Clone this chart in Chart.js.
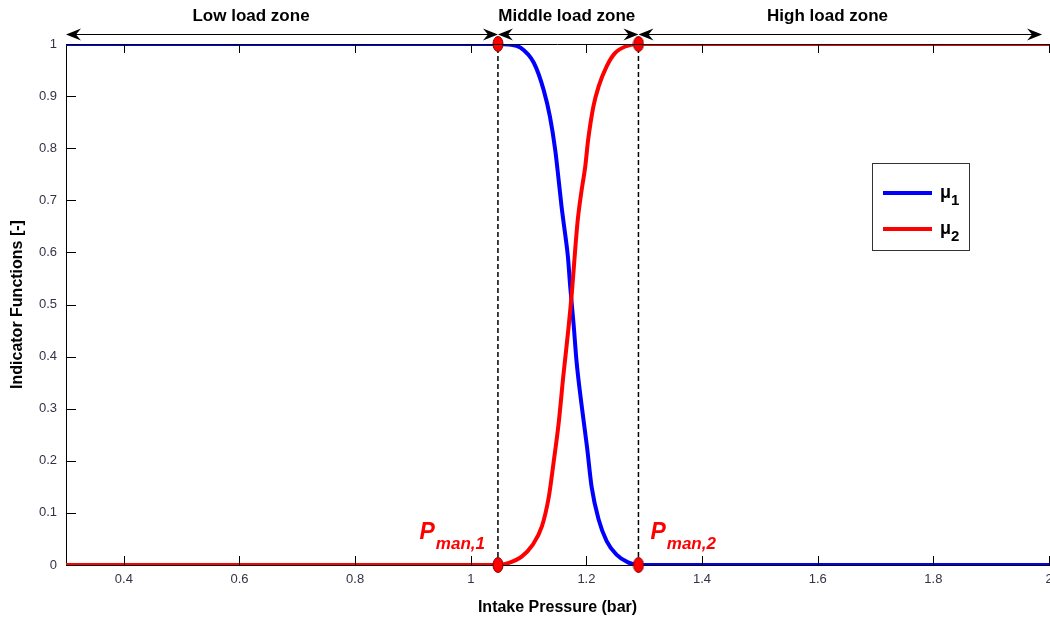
<!DOCTYPE html>
<html>
<head>
<meta charset="utf-8">
<script src="https://cdn.jsdelivr.net/npm/chart.js@4.4.1/dist/chart.umd.min.js"></script>
<style>
html, body { margin: 0; padding: 0; background: #fff; overflow: hidden; }
#wrap { width: 1054px; height: 617px; position: relative; }
</style>
</head>
<body>
<div id="wrap"><canvas id="ind_chart"></canvas></div>
<script>
// mu1 (blue)
var mu1_x = [0.3, 1.047, 1.066, 1.086, 1.109, 1.126, 1.137, 1.146, 1.152, 1.157, 1.163, 1.168, 1.172, 1.178, 1.183, 1.192, 1.201, 1.209, 1.221, 1.235, 1.252, 1.272, 1.29, 2.0];
var mu1_y = [1, 1, 0.999, 0.993, 0.964, 0.912, 0.860, 0.797, 0.739, 0.688, 0.637, 0.592, 0.534, 0.46, 0.39, 0.304, 0.227, 0.150, 0.088, 0.046, 0.02, 0.005, 0, 0];
// mu2 (red)
var mu2_x = [0.3, 1.047, 1.066, 1.088, 1.106, 1.123, 1.135, 1.143, 1.152, 1.160, 1.169, 1.175, 1.181, 1.185, 1.191, 1.198, 1.203, 1.212, 1.221, 1.235, 1.249, 1.269, 1.29, 2.0];
var mu2_y = [0, 0, 0.004, 0.016, 0.037, 0.074, 0.131, 0.195, 0.272, 0.362, 0.455, 0.525, 0.611, 0.662, 0.714, 0.765, 0.816, 0.880, 0.918, 0.957, 0.982, 0.996, 1, 1];

var series_names = ['μ1', 'μ2'];
var pman_x = [1.047, 1.29];
var pman_labels = ['man,1', 'man,2'];
var zone_edges = [0.3, 1.047, 1.29, 1.988];
var zone_names = ['Low load zone', 'Middle load zone', 'High load zone'];
var zone_label_x = [0.62, 1.166, 1.617];
var x_ticks = [0.4, 0.6, 0.8, 1, 1.2, 1.4, 1.6, 1.8, 2];
var y_ticks = [0, 0.1, 0.2, 0.3, 0.4, 0.5, 0.6, 0.7, 0.8, 0.9, 1];

var FONT = '"Liberation Sans", Arial, sans-serif';

function pts(xs, ys){
	return xs.map(function(v, i){ return {x: v, y: ys[i]}; });
}

// red ellipse marker
var marker = document.createElement('canvas');
marker.width = 12; marker.height = 18;
(function(){
	var c = marker.getContext('2d');
	c.beginPath();
	c.ellipse(6, 9, 5, 7.5, 0, 0, Math.PI * 2);
	c.fillStyle = '#ff0000';
	c.fill();
	c.lineWidth = 1;
	c.strokeStyle = '#8a0000';
	c.stroke();
})();

var marker_pts = [];
pman_x.forEach(function(p){ marker_pts.push({x: p, y: 1}); marker_pts.push({x: p, y: 0}); });

function arrowHead(ctx, x, y, dir){
	// dir = -1 points left, 1 points right
	ctx.beginPath();
	ctx.moveTo(x, y);
	ctx.lineTo(x - dir * 15, y - 6);
	ctx.lineTo(x - dir * 10, y);
	ctx.lineTo(x - dir * 15, y + 6);
	ctx.closePath();
	ctx.fill();
}

var decor = {
	id: 'decor',
	afterDraw: function(chart){
		var ctx = chart.ctx, a = chart.chartArea;
		var xs = chart.scales.x, ys = chart.scales.y;
		ctx.save();
		// box top line + inward ticks
		ctx.strokeStyle = '#000';
		ctx.lineWidth = 1;
		ctx.beginPath();
		ctx.moveTo(a.left, a.top + 0.5); ctx.lineTo(a.right, a.top + 0.5);
		x_ticks.forEach(function(v){
			var px = Math.round(xs.getPixelForValue(v)) + 0.5;
			ctx.moveTo(px, a.bottom); ctx.lineTo(px, a.bottom - 9);
			ctx.moveTo(px, a.top); ctx.lineTo(px, a.top + 9);
		});
		y_ticks.forEach(function(v){
			var py = Math.round(ys.getPixelForValue(v)) + 0.5;
			ctx.moveTo(a.left, py); ctx.lineTo(a.left + 10, py);
		});
		ctx.stroke();

		// zone arrows
		var ay = a.top - 9.5;
		ctx.fillStyle = '#000';
		for (var i = 0; i < zone_names.length; i++) {
			var x0 = xs.getPixelForValue(zone_edges[i]);
			var x1 = xs.getPixelForValue(zone_edges[i + 1]);
			ctx.beginPath();
			ctx.moveTo(x0 + 4, ay); ctx.lineTo(x1 - 4, ay);
			ctx.stroke();
			arrowHead(ctx, x0, ay, -1);
			arrowHead(ctx, x1, ay, 1);
			ctx.font = 'bold 17px ' + FONT;
			ctx.textAlign = 'center';
			ctx.textBaseline = 'middle';
			ctx.fillText(zone_names[i], xs.getPixelForValue(zone_label_x[i]), 16);
		}

		// P_man labels
		ctx.fillStyle = '#ff0000';
		ctx.textAlign = 'left';
		ctx.textBaseline = 'alphabetic';
		pman_x.forEach(function(p, i){
			var px = xs.getPixelForValue(p);
			ctx.font = 'italic bold 23px ' + FONT;
			var wp = ctx.measureText('P').width;
			ctx.font = 'italic bold 17px ' + FONT;
			var ws = ctx.measureText(pman_labels[i]).width;
			var sx = i === 0 ? px - 14 - wp - ws : px + 12;
			ctx.font = 'italic bold 23px ' + FONT;
			ctx.fillText('P', sx, 539);
			ctx.font = 'italic bold 17px ' + FONT;
			ctx.fillText(pman_labels[i], sx + wp + 1, 549);
		});

		// legend
		var lx = 872, ly = 163, lw = 97, lh = 87;
		ctx.fillStyle = '#fff';
		ctx.fillRect(lx, ly, lw, lh);
		ctx.strokeStyle = '#333';
		ctx.lineWidth = 1;
		ctx.strokeRect(lx + 0.5, ly + 0.5, lw, lh);
		[0, 1].forEach(function(k){
			var yy = ly + 30 + k * 36;
			ctx.strokeStyle = chart.data.datasets[k].borderColor;
			ctx.lineWidth = 4;
			ctx.beginPath();
			ctx.moveTo(lx + 11, yy); ctx.lineTo(lx + 60, yy);
			ctx.stroke();
			ctx.fillStyle = '#000';
			ctx.font = 'bold 18px ' + FONT;
			ctx.fillText(series_names[k].charAt(0), lx + 68, yy + 5);
			var wm = ctx.measureText(series_names[k].charAt(0)).width;
			ctx.font = 'bold 15px ' + FONT;
			ctx.fillText(series_names[k].slice(1), lx + 68 + wm, yy + 12);
		});
		ctx.restore();
	}
};

function plainLabel(v){ return String(v); }

var ctx = document.getElementById('ind_chart');
var chart = new Chart(ctx, {
	type: 'line',
	data: {
		datasets: [{
			label: series_names[0],
			data: pts(mu1_x, mu1_y),
			borderColor: '#0000ff',
			borderWidth: 4,
			pointRadius: 0,
			cubicInterpolationMode: 'monotone',
			order: 2
		}, {
			label: series_names[1],
			data: pts(mu2_x, mu2_y),
			borderColor: '#ff0000',
			borderWidth: 4,
			pointRadius: 0,
			cubicInterpolationMode: 'monotone',
			order: 1
		}, {
			label: 'pman1',
			data: [{x: pman_x[0], y: 0}, {x: pman_x[0], y: 1}],
			borderColor: '#000',
			borderWidth: 1.5,
			borderDash: [5, 3],
			pointRadius: 0,
			order: 4
		}, {
			label: 'pman2',
			data: [{x: pman_x[1], y: 0}, {x: pman_x[1], y: 1}],
			borderColor: '#000',
			borderWidth: 1.5,
			borderDash: [5, 3],
			pointRadius: 0,
			order: 4
		}, {
			type: 'scatter',
			label: 'markers',
			data: marker_pts,
			pointStyle: marker,
			showLine: false,
			clip: false,
			order: 0
		}]
	},
	options: {
		responsive: true,
		maintainAspectRatio: false,
		animation: false,
		layout: { padding: { left: 0, right: 2, top: 44, bottom: 0 } },
		plugins: {
			legend: { display: false },
			tooltip: { enabled: false }
		},
		scales: {
			x: {
				type: 'linear',
				min: 0.3,
				max: 2.0,
				afterBuildTicks: function(s){ s.ticks = x_ticks.map(function(v){ return {value: v}; }); },
				afterFit: function(s){ s.height = 52; s.paddingLeft = 0; s.paddingRight = 0; },
				grid: { drawOnChartArea: false, drawTicks: false },
				border: { display: true, color: '#000', width: 1 },
				ticks: { color: '#333348', font: { family: FONT, size: 13 }, padding: 7, maxRotation: 0, callback: plainLabel },
				title: {
					display: true,
					text: 'Intake Pressure (bar)',
					color: '#000',
					font: { family: FONT, size: 16, weight: 'bold' },
					padding: { top: 4, bottom: 0 }
				}
			},
			y: {
				min: 0,
				max: 1,
				afterBuildTicks: function(s){ s.ticks = y_ticks.map(function(v){ return {value: v}; }); },
				afterFit: function(s){ s.width = 66; s.paddingTop = 0; s.paddingBottom = 0; },
				grid: { drawOnChartArea: false, drawTicks: false },
				border: { display: true, color: '#000', width: 1 },
				ticks: { color: '#333348', font: { family: FONT, size: 13 }, padding: 9, callback: plainLabel },
				title: {
					display: true,
					text: 'Indicator Functions [-]',
					color: '#000',
					font: { family: FONT, size: 16, weight: 'bold' },
					padding: { top: 8, bottom: 0 }
				}
			}
		}
	},
	plugins: [decor]
});
</script>
</body>
</html>
